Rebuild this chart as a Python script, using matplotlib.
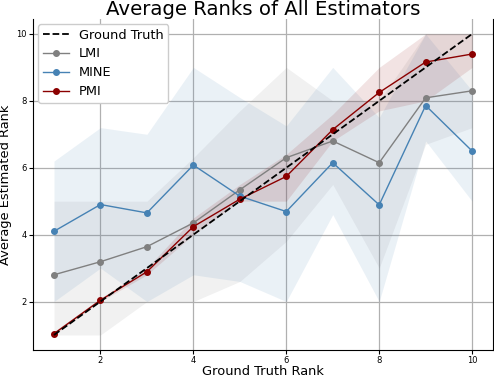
import numpy as np
import matplotlib.pyplot as plt

ranks = np.arange(1, 11)

lmi_mean = [2.80, 3.19, 3.64, 4.35, 5.34, 6.30, 6.80, 6.15, 8.09, 8.30]
lmi_low = [1.0, 1.0, 2.0, 2.0, 2.6, 3.8, 5.5, 3.0, 6.7, 7.2]
lmi_high = [5.0, 5.0, 5.0, 6.3, 7.7, 9.0, 8.0, 8.0, 10.0, 10.0]

mine_mean = [4.10, 4.90, 4.65, 6.08, 5.15, 4.69, 6.15, 4.89, 7.86, 6.50]
mine_low = [2.0, 3.0, 2.0, 2.8, 2.6, 2.0, 4.6, 2.0, 6.8, 5.0]
mine_high = [6.2, 7.2, 7.0, 9.0, 8.1, 7.25, 9.0, 7.5, 10.0, 8.3]

pmi_mean = [1.04, 2.04, 2.89, 4.24, 5.06, 5.74, 7.14, 8.25, 9.16, 9.40]
pmi_low = [1.0, 2.0, 2.8, 4.0, 5.0, 5.0, 6.8, 7.7, 8.0, 9.0]
pmi_high = [1.1, 2.1, 3.0, 4.5, 5.5, 6.4, 7.6, 9.0, 10.0, 10.0]

fig = plt.figure(figsize=(4.94, 3.78), dpi=100)
ax = fig.add_axes([0.067, 0.074, 0.931, 0.876])

ax.grid(True, color='#b0b0b0', linewidth=0.9)
ax.set_axisbelow(True)

ax.plot(ranks, ranks, 'k--', linewidth=1.3, label='Ground Truth', zorder=5)

series = [
    ('LMI', 'gray', lmi_mean, lmi_low, lmi_high),
    ('MINE', 'steelblue', mine_mean, mine_low, mine_high),
    ('PMI', 'darkred', pmi_mean, pmi_low, pmi_high),
]
for name, col, m, lo, hi in series:
    ax.plot(ranks, m, '-o', color=col, linewidth=1.0, markersize=4, label=name, zorder=4)
    ax.fill_between(ranks, lo, hi, color=col, alpha=0.11, linewidth=0)

ax.set_xticks([2, 4, 6, 8, 10])
ax.set_yticks([2, 4, 6, 8, 10])
ax.tick_params(labelsize=6, length=3, pad=1.5)
ax.spines['top'].set_visible(False)

ax.set_xlabel('Ground Truth Rank', fontsize=9.4, labelpad=-0.3)
ax.set_ylabel('Average Estimated Rank', fontsize=9.4, labelpad=3)
ax.set_title('Average Ranks of All Estimators', fontsize=14.2, pad=3)
ax.legend(loc='upper left', fontsize=9.3, framealpha=1, borderpad=0.35,
          labelspacing=0.45, handlelength=2.0, borderaxespad=0.4)

fig.savefig('out.png', dpi=100)
